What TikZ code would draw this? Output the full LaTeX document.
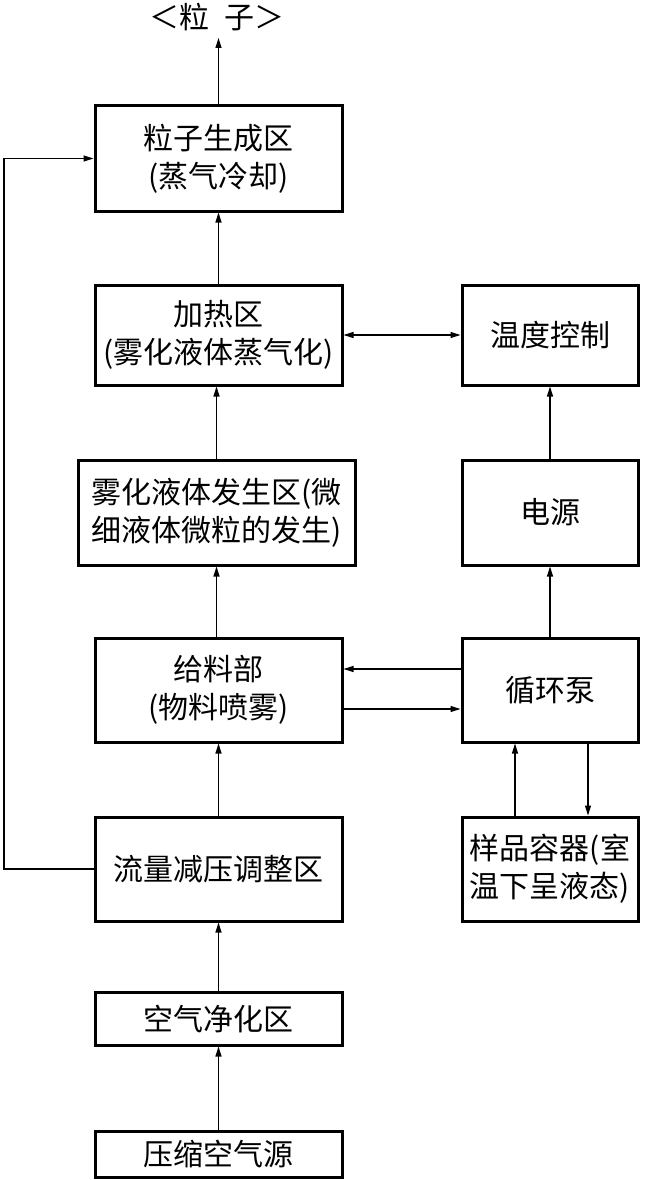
\documentclass[tikz,border=0pt]{standalone}
\usepackage{fontspec}
\newfontfamily\cjk{Noto Sans CJK SC}
\usetikzlibrary{arrows.meta}
\tikzset{
  blk/.style={draw, line width=3pt, inner sep=0pt, align=center,
    font=\cjk\fontsize{30}{38}\selectfont},
  arr/.style={line width=1.2pt, -{Triangle[length=10pt,width=6pt]}},
  darr/.style={line width=1.2pt, {Triangle[length=10pt,width=6pt]}-{Triangle[length=10pt,width=6pt]}}
}
\begin{document}
\begin{tikzpicture}[x=1pt,y=-1pt]
\useasboundingbox (0,0) rectangle (670,1180);
% main column
\node[blk, minimum width=247pt, minimum height=105pt] (b1) at (218.5,158.5) {粒子生成区\\(蒸气冷却)};
\node[blk, minimum width=247pt, minimum height=100pt] (b2) at (218.5,335) {加热区\\(雾化液体蒸气化)};
\node[blk, minimum width=277pt, minimum height=105pt] (b3) at (216.5,512.5) {雾化液体发生区(微\\细液体微粒的发生)};
\node[blk, minimum width=247pt, minimum height=104pt] (b4) at (218.5,690) {给料部\\(物料喷雾)};
\node[blk, minimum width=247pt, minimum height=104pt] (b5) at (218.5,869) {流量减压调整区};
\node[blk, minimum width=247pt, minimum height=53pt] (b6) at (218.5,1018.5) {空气净化区};
\node[blk, minimum width=247pt, minimum height=46pt] (b7) at (218.5,1154) {压缩空气源};
% right column
\node[blk, minimum width=176pt, minimum height=100pt] (temp) at (550,335) {温度控制};
\node[blk, minimum width=176pt, minimum height=105pt] (pwr) at (550,512.5) {电源};
\node[blk, minimum width=176pt, minimum height=104pt] (pump) at (550,690) {循环泵};
\node[blk, minimum width=176pt, minimum height=104pt] (samp) at (550,869) {样品容器(室\\温下呈液态)};
% top label
\node[font=\cjk\fontsize{30}{34}\selectfont, inner sep=0pt] (lbl) at (217,17) {＜粒\hspace{0.5em}子＞};
\coordinate (topend) at (217,38);
\coordinate (fbx) at (4,0);
% connectors
\draw[arr] (b1.north) -- (b1.north |- topend);
\draw[arr] (b2.north) -- (b1.south);
\draw[arr] (b3.north) -- (b3.north |- b2.south);
\draw[arr] (b4.north -| b3.north) -- (b3.south);
\draw[arr] (b5.north) -- (b4.south);
\draw[arr] (b6.north) -- (b5.south);
\draw[arr] (b7.north) -- (b6.south);
\draw[arr] (b5.west) -- (b5.west -| fbx) |- (b1.west);
\draw[darr] (b2.east) -- (temp.west);
\draw[arr] (pwr.north) -- (temp.south);
\draw[arr] (pump.north) -- (pwr.south);
\draw[arr] ([yshift=21pt]pump.west) -- ([yshift=21pt]pump.west -| b4.east);
\draw[arr] ([yshift=-19pt]b4.east) -- ([yshift=-19pt]b4.east -| pump.west);
\draw[arr] ([xshift=-35pt]samp.north) -- ([xshift=-35pt]pump.south);
\draw[arr] ([xshift=38pt]pump.south) -- ([xshift=38pt]samp.north);
\end{tikzpicture}
\end{document}
